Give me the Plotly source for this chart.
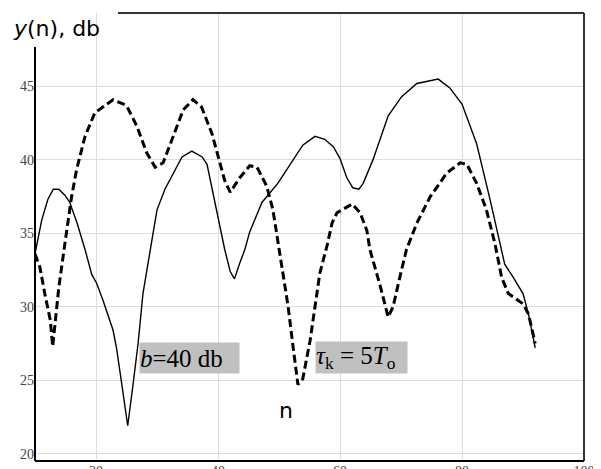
import plotly.graph_objects as go

# Solid curve
n_solid = [10.0, 11.1, 12.1, 13.0, 13.9, 14.9, 15.7, 16.9, 18.2, 19.3, 20.1, 21.1, 22.8, 23.4, 24.2, 25.2,
           26.1, 26.9, 27.7, 28.9, 30.0, 31.3, 32.6, 34.1, 35.7, 37.4, 38.2, 40.0, 41.1, 42.0, 42.7, 43.5,
           44.4, 45.2, 47.2, 49.8, 51.8, 53.9, 55.9, 57.5, 58.9, 60.0, 61.1, 62.1, 63.1, 63.8, 65.4, 66.6,
           67.9, 70.1, 72.6, 76.1, 78.0, 80.0, 82.4, 84.6, 87.0, 88.4, 90.0, 90.9, 92.0]
y_solid = [33.6, 35.9, 37.3, 38.0, 38.0, 37.6, 37.1, 35.7, 33.9, 32.2, 31.6, 30.5, 28.4, 27.1, 24.8, 21.9,
           24.8, 27.5, 30.9, 33.9, 36.6, 38.0, 39.0, 40.2, 40.6, 40.2, 39.7, 36.1, 33.9, 32.4, 31.9, 32.9,
           33.9, 35.1, 37.1, 38.4, 39.7, 41.0, 41.6, 41.4, 40.9, 40.1, 38.8, 38.1, 38.0, 38.4, 40.0, 41.4,
           43.0, 44.3, 45.2, 45.5, 44.9, 43.8, 41.1, 37.3, 32.9, 32.0, 30.9, 29.5, 27.2]

# Dashed curve
n_dash = [10.0, 10.8, 11.6, 12.5, 12.9, 13.3, 13.9, 14.9, 16.0, 16.8, 18.2, 19.8, 22.8, 25.0, 26.7, 28.3,
          29.7, 31.0, 32.6, 34.3, 35.9, 37.3, 39.0, 40.3, 41.1, 42.0, 43.6, 45.2, 46.4, 48.0, 49.0, 49.8,
          50.7, 51.5, 52.3, 53.0, 53.1, 53.9, 55.1, 55.9, 56.7, 57.9, 58.7, 59.5, 62.0, 63.3, 64.4, 64.9,
          66.6, 67.9, 68.7, 69.8, 70.9, 72.6, 74.8, 77.5, 79.7, 80.8, 82.4, 84.0, 85.4, 86.5, 87.6, 90.0,
          90.9, 92.0]
y_dash = [33.6, 32.7, 30.9, 29.1, 27.3, 29.1, 31.3, 34.3, 37.5, 39.3, 41.6, 43.2, 44.1, 43.7, 42.3, 40.5,
          39.5, 39.8, 41.6, 43.4, 44.1, 43.6, 41.8, 39.8, 38.6, 37.8, 38.8, 39.6, 39.5, 38.2, 36.6, 34.5,
          32.0, 30.0, 27.3, 25.0, 24.7, 25.1, 27.7, 30.0, 32.3, 34.2, 35.7, 36.4, 37.0, 36.4, 35.2, 33.9,
          31.4, 29.3, 30.0, 32.0, 33.9, 35.7, 37.5, 39.1, 39.8, 39.7, 38.4, 36.6, 34.3, 32.0, 30.9, 30.2,
          29.5, 27.5]

x_ticks = [20, 40, 60, 80, 100]
y_ticks = [20, 25, 30, 35, 40, 45]

# The page body adds an 8px offset; lay the figure out in screen pixels minus that offset.
OFF = 8
SW, SH = 601, 469
W, H = SW - OFF, SH - OFF
ML, MT = 35 - OFF, 13 - OFF
MR, MB = W - (584 - OFF), H - (461 - OFF)
PW, PH = W - ML - MR, H - MT - MB

def px_x(p):  # screen x -> paper
    return (p - OFF - ML) / PW

def px_y(p):  # screen y -> paper
    return (H - MB - (p - OFF)) / PH

fig = go.Figure()
fig.add_trace(go.Scatter(x=n_solid, y=y_solid, mode="lines",
                         line=dict(color="black", width=1.4), showlegend=False))
fig.add_trace(go.Scatter(x=n_dash, y=y_dash, mode="lines",
                         line=dict(color="black", width=3, dash="8px,4px"), showlegend=False))

tick_font = dict(family="Liberation Serif", size=14, color="#444444")

fig.update_layout(
    width=W, height=H,
    margin=dict(l=ML, r=MR, t=MT, b=MB, autoexpand=False),
    paper_bgcolor="white", plot_bgcolor="white",
    xaxis=dict(range=[10, 100], tickvals=x_ticks, ticktext=[str(v) for v in x_ticks],
               showgrid=True, gridcolor="#dddddd", gridwidth=1, zeroline=False, showline=False,
               ticks="", automargin=False, tickfont=tick_font),
    yaxis=dict(range=[19.5, 50], tickvals=y_ticks, ticktext=[str(v) for v in y_ticks],
               showgrid=True, gridcolor="#dddddd", gridwidth=1, zeroline=False, showline=False,
               ticks="", automargin=False, tickfont=tick_font),
    shapes=[
        dict(type="line", xref="paper", yref="paper", x0=0, x1=0, y0=0, y1=px_y(47),
             line=dict(color="black", width=2)),
        dict(type="line", xref="paper", yref="paper", x0=0, x1=1, y0=0, y1=0,
             line=dict(color="black", width=2)),
        dict(type="line", xref="paper", yref="paper", x0=1, x1=1, y0=0, y1=1,
             line=dict(color="#333333", width=2)),
        dict(type="line", xref="paper", yref="paper", x0=px_x(118), x1=1, y0=1, y1=1,
             line=dict(color="#333333", width=2)),
    ],
    annotations=[
        dict(text="<i>y</i>(n), db", xref="paper", yref="paper", x=px_x(11), y=px_y(28),
             xanchor="left", yanchor="middle", showarrow=False,
             font=dict(family="DejaVu Sans", size=22, color="black")),
        dict(text="n", xref="paper", yref="paper", x=px_x(286), y=px_y(410),
             xanchor="center", yanchor="middle", showarrow=False,
             font=dict(family="DejaVu Sans", size=22, color="black")),
        dict(text="<i>b</i>=40 db", xref="paper", yref="paper", x=px_x(139), y=px_y(342),
             xanchor="left", yanchor="top", showarrow=False, width=99, height=30,
             align="left", valign="middle", bgcolor="#c0c0c0", borderpad=0,
             font=dict(family="Liberation Serif", size=25, color="black")),
        dict(text="<i>τ</i><sub>k</sub> = 5<i>T</i><sub>o</sub>", xref="paper", yref="paper",
             x=px_x(315), y=px_y(341), xanchor="left", yanchor="top", showarrow=False,
             width=91, height=31, align="left", valign="middle", bgcolor="#c0c0c0", borderpad=0,
             font=dict(family="Liberation Serif", size=25, color="black")),
    ],
)

fig.write_html("out.html")
